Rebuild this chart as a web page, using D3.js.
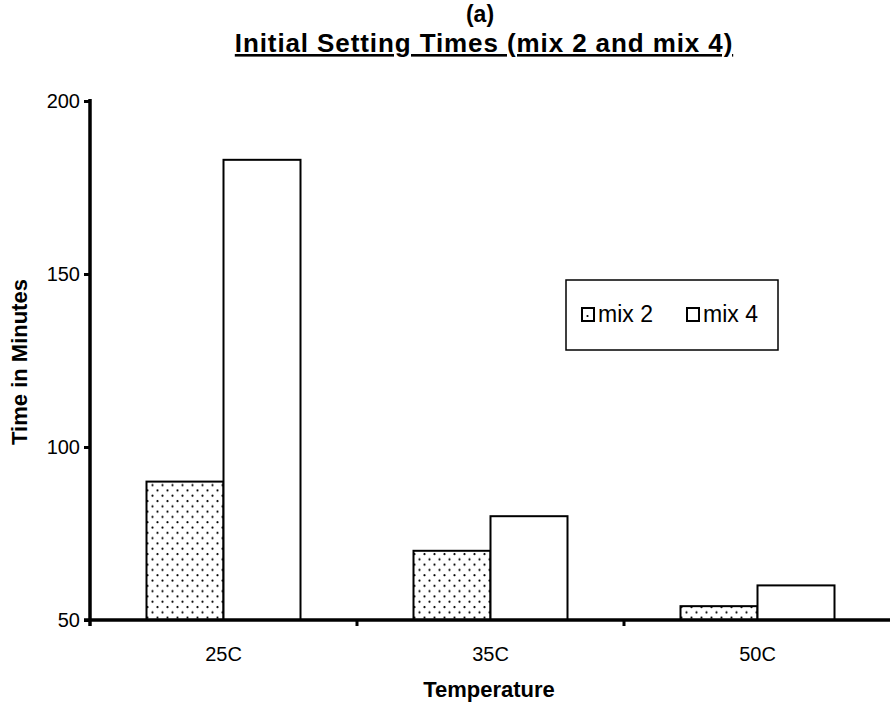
<!DOCTYPE html>
<html>
<head>
<meta charset="utf-8">
<script src="https://cdn.jsdelivr.net/npm/d3@7/dist/d3.min.js"></script>
<style>
  body { margin: 0; background: #fff; }
  text { font-family: Arial, "Liberation Sans", sans-serif; fill: #000; }
</style>
</head>
<body>
<div id="grafico"></div>
<script>
// datos
var categorias = ["25C", "35C", "50C"];
var series = ["mix 2", "mix 4"];
var mix2 = [90, 70, 54];
var mix4 = [183, 80, 60];
var yTicks = [50, 100, 150, 200];

var width_f = 890, height_f = 702,
    margin = {top: 101, right: 0, bottom: 82, left: 90},
    width = width_f - margin.left - margin.right,
    height = height_f - margin.top - margin.bottom;

var fuente = "Arial, 'Liberation Sans', sans-serif";

var svg = d3.select("#grafico").append("svg")
    .attr("width", width_f)
    .attr("height", height_f);

// patron punteado para mix 2
var defs = svg.append("defs");
var pat = defs.append("pattern")
    .attr("id", "puntos")
    .attr("patternUnits", "userSpaceOnUse")
    .attr("width", 10)
    .attr("height", 10.6);
pat.append("rect").attr("width", 10).attr("height", 10.6).attr("fill", "#fff");
pat.append("circle").attr("cx", 2.5).attr("cy", 2.6).attr("r", 1.1).attr("fill", "#000");
pat.append("circle").attr("cx", 7.5).attr("cy", 7.9).attr("r", 1.1).attr("fill", "#000");

var g = svg.append("g").attr("transform", "translate(" + margin.left + "," + margin.top + ")");

var data = categorias.map(function(c, i) {
    return {cat: c, "mix 2": mix2[i], "mix 4": mix4[i]};
});

var x0 = d3.scaleBand()
    .domain(categorias)
    .range([0, 801])
    .paddingInner(0)
    .paddingOuter(0);

var x1 = d3.scaleBand()
    .domain(series)
    .range([(x0.bandwidth() - 154) / 2, (x0.bandwidth() + 154) / 2]);

var y = d3.scaleLinear()
    .domain([50, 200])
    .range([height, 0]);

var fill = d3.scaleOrdinal()
    .domain(series)
    .range(["url(#puntos)", "#fff"]);

// barras
g.append("g")
    .selectAll("g")
    .data(data)
    .enter().append("g")
    .attr("transform", function(d) { return "translate(" + x0(d.cat) + ",0)"; })
    .selectAll("rect")
    .data(function(d) {
        return series.map(function(key) { return {key: key, value: d[key]}; });
    })
    .enter().append("rect")
    .attr("x", function(d) { return x1(d.key); })
    .attr("y", function(d) { return y(d.value); })
    .attr("width", x1.bandwidth())
    .attr("height", function(d) { return height - y(d.value); })
    .attr("fill", function(d) { return fill(d.key); })
    .attr("stroke", "#000")
    .attr("stroke-width", 2);

// eje Y
var ejeY = g.append("g")
    .call(d3.axisLeft(y).tickValues(yTicks).tickSize(6).tickPadding(4).tickFormat(d3.format("d")));
ejeY.select(".domain").attr("stroke-width", 3.5).attr("d", "M0," + (height + 6) + "V-2");
ejeY.selectAll(".tick line").attr("stroke-width", 3);
ejeY.selectAll(".tick text").attr("font-size", 20).attr("font-family", fuente);

// eje X
var ejeX = g.append("g")
    .attr("transform", "translate(0," + height + ")")
    .call(d3.axisBottom(x0).tickSize(0).tickPadding(27));
ejeX.select(".domain").attr("stroke-width", 3.5).attr("d", "M-6,0H" + width);
ejeX.selectAll(".tick text").attr("font-size", 20).attr("font-family", fuente);

// marcas entre categorias
g.append("g")
    .selectAll("line")
    .data(categorias.slice(1))
    .enter().append("line")
    .attr("x1", function(d) { return x0(d); })
    .attr("x2", function(d) { return x0(d); })
    .attr("y1", height)
    .attr("y2", height + 6)
    .attr("stroke", "#000")
    .attr("stroke-width", 3);

// titulos
svg.append("text")
    .attr("x", 480).attr("y", 22)
    .attr("text-anchor", "middle")
    .attr("font-size", 23).attr("font-weight", "bold")
    .text("(a)");

svg.append("text")
    .attr("x", 484).attr("y", 52)
    .attr("text-anchor", "middle")
    .attr("font-size", 26).attr("font-weight", "bold")
    .attr("letter-spacing", 0.9)
    .attr("text-decoration", "underline")
    .text("Initial Setting Times (mix 2 and mix 4)");

svg.append("text")
    .attr("x", 489).attr("y", 697)
    .attr("text-anchor", "middle")
    .attr("font-size", 22).attr("font-weight", "bold")
    .text("Temperature");

svg.append("text")
    .attr("transform", "translate(27,362) rotate(-90)")
    .attr("text-anchor", "middle")
    .attr("font-size", 22).attr("font-weight", "bold")
    .text("Time in Minutes");

// leyenda
var legend = svg.append("g").attr("transform", "translate(566,280)");
legend.append("rect")
    .attr("width", 212).attr("height", 70)
    .attr("fill", "#fff").attr("stroke", "#000").attr("stroke-width", 1.5);

var item = legend.selectAll("g.item")
    .data(series)
    .enter().append("g")
    .attr("class", "item")
    .attr("transform", function(d, i) { return "translate(" + (16 + i * 105) + ",28)"; });

item.append("rect")
    .attr("width", 12).attr("height", 13)
    .attr("fill", "#fff")
    .attr("stroke", "#000").attr("stroke-width", 2);
item.filter(function(d) { return d == "mix 2"; })
    .append("circle").attr("cx", 5.5).attr("cy", 8).attr("r", 1.1).attr("fill", "#000");

item.append("text")
    .attr("x", 16).attr("y", 14)
    .attr("font-size", 23)
    .text(function(d) { return d; });
</script>
</body>
</html>
